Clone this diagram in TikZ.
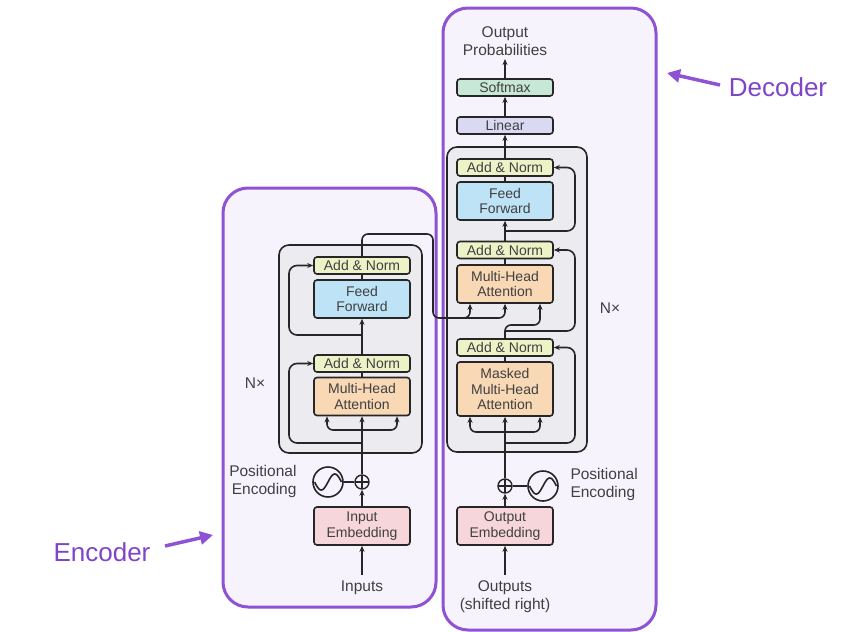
\documentclass[tikz,border=0pt]{standalone}
\usepackage{fontspec}
\setmainfont{Liberation Sans}
\usetikzlibrary{arrows.meta,calc}
\definecolor{purp}{HTML}{8E52D4}
\definecolor{purpfill}{HTML}{F7F3FD}
\definecolor{purptext}{HTML}{7E45C9}
\definecolor{greyfill}{HTML}{ECECF0}
\definecolor{linec}{HTML}{262626}
\definecolor{txt}{HTML}{404040}
\definecolor{addnorm}{HTML}{EEF3C7}
\definecolor{ffc}{HTML}{BFE3F6}
\definecolor{mhac}{HTML}{F9D8B6}
\definecolor{embc}{HTML}{F6D6DA}
\definecolor{linc}{HTML}{D9D9F3}
\definecolor{smc}{HTML}{C8E8D6}
\tikzset{
  blk/.style={draw=linec, line width=1.6pt, rounded corners=3pt, minimum width=96pt, inner sep=0pt, align=center, text=txt, font=\fontsize{14}{15.5}\selectfont},
  an/.style={blk, fill=addnorm, minimum height=17pt},
  ff/.style={blk, fill=ffc, minimum height=38pt},
  mha/.style={blk, fill=mhac, minimum height=38pt},
  emb/.style={blk, fill=embc, minimum height=38pt},
  lbl/.style={text=txt, align=center, font=\fontsize{15.5}{18}\selectfont},
  conn/.style={draw=linec, line width=1.6pt, -{Stealth[length=6pt,width=5pt]}},
  plain/.style={draw=linec, line width=1.6pt},
  region/.style={draw=purp, line width=3pt, fill=purpfill, rounded corners=25pt},
  stack/.style={draw=linec, line width=1.6pt, fill=greyfill, rounded corners=10pt},
  bigl/.style={text=purptext, font=\fontsize{26}{28}\selectfont},
  parrow/.style={draw=purp, line width=3.5pt, -{Triangle[length=13pt,width=13pt]}}
}
\begin{document}
\begin{tikzpicture}[x=1pt,y=-1pt]
\useasboundingbox (0,0) rectangle (844,632);
% regions
\draw[region] (223,188) rectangle (436,607);
\draw[region] (443,8) rectangle (656,630);
\draw[stack] (279,245) rectangle (422,453);
\draw[stack] (447,147) rectangle (587,452);

% ===== Encoder =====
\node[an]  (encAN2) at (362,265.5) {Add \& Norm};
\node[ff]  (encFF)  at (362,299) {Feed\\Forward};
\node[an]  (encAN1) at (362,363.5) {Add \& Norm};
\node[mha] (encMHA) at (362,396.5) {Multi-Head\\Attention};
\node[emb] (inEmb)  at (362,526) {Input\\Embedding};
\node[draw=linec, line width=1.4pt, circle, minimum size=14pt, inner sep=0pt] (encPlus) at (362,482) {};
\draw[linec, line width=1.2pt] ($(encPlus.center)+(-7,0)$) -- ($(encPlus.center)+(7,0)$) ($(encPlus.center)+(0,-7)$) -- ($(encPlus.center)+(0,7)$);
\node[draw=linec, line width=1.6pt, circle, minimum size=30pt, inner sep=0pt] (encSin) at (328,482) {};
\draw[linec, line width=1.6pt] plot[variable=\t, domain=-1:1, samples=40] ({328+\t*13.5},{482-sin(\t*180)*8});
\node[lbl, align=right, anchor=east] (encPE) at (300,481) {Positional\\Encoding};
\node[lbl] (inputs) at (362,588) {Inputs};
\coordinate (inStart) at (362,575);
\node[lbl, font=\fontsize{15.5}{17}\selectfont] (encNx) at (255,383) {N×};

\draw[conn] (inStart) -- (inEmb.south);
\draw[conn] (inEmb.north) -- (encPlus.south);
\draw[plain] (encSin.east) -- (encPlus.west);
\draw[conn] (encPlus.north) -- (encMHA.south);
\draw[conn, rounded corners=6pt] (362,430) -| ($(encMHA.south)+(-35,0)$);
\draw[conn, rounded corners=6pt] (362,430) -| ($(encMHA.south)+(35,0)$);
\draw[conn, rounded corners=8pt] (362,443) -| (289,363.5) -- (encAN1.west);
\draw[plain] (encMHA.north) -- (encAN1.south);
\draw[conn] (encAN1.north) -- (encFF.south);
\draw[conn, rounded corners=8pt] (362,335) -| (289,265.5) -- (encAN2.west);
\draw[plain] (encFF.north) -- (encAN2.south);

% ===== Decoder =====
\node[blk, fill=smc, minimum height=17pt] (softmax) at (505,87.5) {Softmax};
\node[blk, fill=linc, minimum height=17pt] (linear) at (505,125.5) {Linear};
\node[an]  (decAN3) at (505,167.5) {Add \& Norm};
\node[ff]  (decFF)  at (505,201) {Feed\\Forward};
\node[an]  (decAN2) at (505,250) {Add \& Norm};
\node[mha] (decMHA) at (505,284) {Multi-Head\\Attention};
\node[an]  (decAN1) at (505,347.5) {Add \& Norm};
\node[mha, minimum height=54pt] (decMMHA) at (505,389) {Masked\\Multi-Head\\Attention};
\node[emb] (outEmb) at (505,526) {Output\\Embedding};
\node[draw=linec, line width=1.4pt, circle, minimum size=14pt, inner sep=0pt] (decPlus) at (505,486) {};
\draw[linec, line width=1.2pt] ($(decPlus.center)+(-7,0)$) -- ($(decPlus.center)+(7,0)$) ($(decPlus.center)+(0,-7)$) -- ($(decPlus.center)+(0,7)$);
\node[draw=linec, line width=1.6pt, circle, minimum size=30pt, inner sep=0pt] (decSin) at (543,486) {};
\draw[linec, line width=1.6pt] plot[variable=\t, domain=-1:1, samples=40] ({543+\t*13.5},{486-sin(\t*180)*8});
\node[lbl, align=left, anchor=west] (decPE) at (567,484) {Positional\\Encoding};
\node[lbl] (outputs) at (505,597) {Outputs\\(shifted right)};
\coordinate (outStart) at (505,575);
\node[lbl] (outProb) at (505,41) {Output\\Probabilities};
\node[lbl, font=\fontsize{15.5}{17}\selectfont] (decNx) at (610,308) {N×};

\draw[conn] (outStart) -- (outEmb.south);
\draw[conn] (outEmb.north) -- (decPlus.south);
\draw[plain] (decSin.west) -- (decPlus.east);
\draw[conn] (decPlus.north) -- (decMMHA.south);
\draw[conn, rounded corners=6pt] (505,432) -| ($(decMMHA.south)+(-35,0)$);
\draw[conn, rounded corners=6pt] (505,432) -| ($(decMMHA.south)+(35,0)$);
\draw[conn, rounded corners=8pt] (505,443) -| (575,347.5) -- (decAN1.east);
\draw[plain] (decMMHA.north) -- (decAN1.south);
\draw[conn, rounded corners=6pt] (decAN1.north) -- (505,325) -- (540,325) -- ($(decMHA.south)+(35,0)$);
\draw[conn, rounded corners=8pt] (505,331) -| (575,250) -- (decAN2.east);
\draw[plain] (decMHA.north) -- (decAN2.south);
\draw[conn] (decAN2.north) -- (decFF.south);
\draw[conn, rounded corners=8pt] (505,231) -| (575,167.5) -- (decAN3.east);
\draw[plain] (decFF.north) -- (decAN3.south);
\draw[conn] (decAN3.north) -- (linear.south);
\draw[conn] (linear.north) -- (softmax.south);
\draw[conn] (softmax.north) -- (outProb.south);

% encoder -> decoder
\draw[conn, rounded corners=6pt] (encAN2.north) -- (362,234) -- (433,234) -- (433,318) -- (505,318) -- (decMHA.south);
\draw[conn, rounded corners=6pt] (460,318) -| ($(decMHA.south)+(-35,0)$);

% labels
\node[bigl] (encL) at (102,552) {Encoder};
\node[bigl] (decL) at (778,87) {Decoder};
\coordinate (encA) at (213,535);
\coordinate (decA) at (667,73);
\draw[parrow] (165,546) -- (encA);
\draw[parrow] (720,85) -- (decA);
\end{tikzpicture}
\end{document}
